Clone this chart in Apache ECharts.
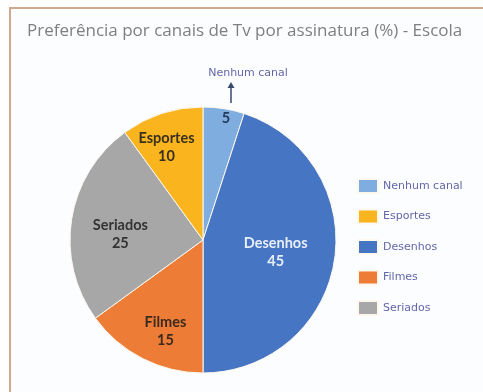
<!DOCTYPE html>
<html><head><meta charset="utf-8">
<script src="https://cdn.jsdelivr.net/npm/echarts@6/dist/echarts.min.js"></script>
<style>html,body{margin:0;padding:0;background:#fff}#c{width:483px;height:392px}</style>
</head><body><div id="c"></div>
<script>
const categories = ['Nenhum canal', 'Desenhos', 'Filmes', 'Seriados', 'Esportes'];
const values = [5, 45, 15, 25, 10];
const legendOrder = ['Nenhum canal', 'Esportes', 'Desenhos', 'Filmes', 'Seriados'];
const colors = {'Nenhum canal':'#7fade0','Desenhos':'#4675c3','Filmes':'#ec7c36','Seriados':'#a7a7a7','Esportes':'#f9b41e'};
const labelOffsets = {'Nenhum canal':[12,-53],'Desenhos':[4,1],'Filmes':[-6,29],'Seriados':[-14,5],'Esportes':[-15,-27]};
const labelColors = {'Nenhum canal':'#263a5e','Desenhos':'#e8eef8','Filmes':'#3a2a20','Seriados':'#333333','Esportes':'#3a3020'};

const chart = echarts.init(document.getElementById('c'));
chart.setOption({
  backgroundColor: '#ffffff',
  animation: false,
  title: {
    text: 'Preferência por canais de Tv por assinatura (%) - Escola',
    left: 22, top: 18,
    textStyle: {fontFamily: 'Open Sans', fontSize: 17, fontWeight: 'normal', color: '#7f7f7f'}
  },
  legend: {
    orient: 'vertical',
    data: legendOrder,
    left: 352, top: 173,
    itemWidth: 20, itemHeight: 14, itemGap: 14.5,
    icon: 'rect',
    textStyle: {fontFamily: 'DejaVu Sans', fontSize: 11, color: '#6367a8'}
  },
  graphic: [
    {type: 'rect', shape: {x: 10, y: 8, width: 600, height: 600}, style: {fill: '#fcfdff', stroke: '#cfa98c', lineWidth: 2}, z: -10},
    {type: 'text', x: 248, y: 73, style: {text: 'Nenhum canal', fontFamily: 'DejaVu Sans', fontSize: 11, fill: '#6367a8', align: 'center', verticalAlign: 'middle'}},
    {type: 'line', shape: {x1: 231, y1: 103, x2: 231, y2: 86}, style: {stroke: '#3b4a6b', lineWidth: 1.5}},
    {type: 'polygon', shape: {points: [[227.5, 88], [234.5, 88], [231, 82]]}, style: {fill: '#3b4a6b'}}
  ],
  series: [{
    type: 'pie',
    center: [203, 240],
    radius: [0, 133],
    startAngle: 90,
    clockwise: true,
    avoidLabelOverlap: false,
    itemStyle: {borderColor: '#fdf8ee', borderWidth: 1},
    label: {
      position: 'inside',
      fontFamily: 'Lato', fontSize: 14.5, fontWeight: 'bold', lineHeight: 18,
      formatter: p => p.name === 'Nenhum canal' ? String(p.value) : p.name + '\n' + p.value
    },
    labelLine: {show: false},
    emphasis: {disabled: true},
    data: categories.map((n, i) => ({
      name: n, value: values[i],
      itemStyle: {color: colors[n]},
      label: {offset: labelOffsets[n], color: labelColors[n]}
    }))
  }]
});
</script></body></html>
